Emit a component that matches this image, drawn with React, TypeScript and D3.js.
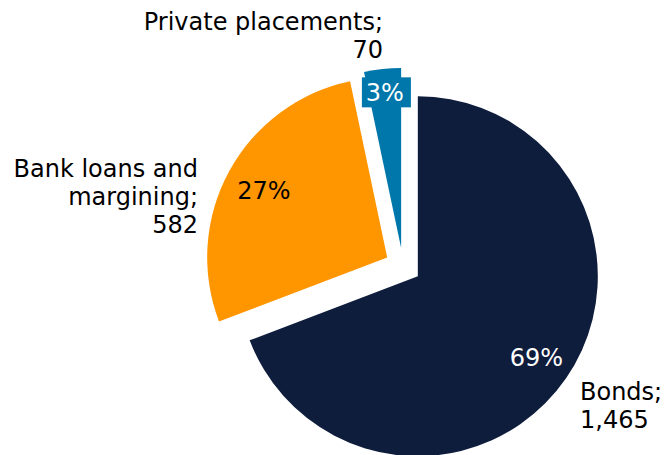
import React from "react";
import * as d3 from "d3";

const categories = ["Bonds", "Bank loans and margining", "Private placements"];
const values = [1465, 582, 70];
const outerLabelLines = [["Bonds;", "1,465"], ["Bank loans and", "margining;", "582"], ["Private placements;", "70"]];
const colors = ["#0F1D3D", "#FF9600", "#0077AA"];
const pctColors = ["#FFFFFF", "#000000", "#FFFFFF"];

const W = 665, H = 455;
const cx = 403, cy = 266, R = 180, EXPLODE = 18;
const FONT = "'DejaVu Sans', Verdana, sans-serif";
const FS = 24;

export default function App() {
  const pie = d3.pie<number>().sort(null).startAngle(0).endAngle(2 * Math.PI);
  const arcs = pie(values);
  const arc = d3.arc<d3.PieArcDatum<number>>().innerRadius(0).outerRadius(R);
  const total = d3.sum(values);
  const pctFrac = [0.8, 0.78, 0.87];
  const outerPos: [number, number, string][] = [
    [580, 400, "start"],
    [198, 177, "end"],
    [383, 30, "end"],
  ];
  return (
    <svg width={W} height={H} style={{ position: "absolute", left: 0, top: 0 }}>
      <rect width={W} height={H} fill="#fff" />
      {arcs.map((a, i) => {
        const mid = (a.startAngle + a.endAngle) / 2;
        const ox = cx + EXPLODE * Math.sin(mid);
        const oy = cy - EXPLODE * Math.cos(mid);
        const lr = R * pctFrac[i];
        const lx = ox + lr * Math.sin(mid);
        const ly = oy - lr * Math.cos(mid);
        const pct = Math.round((values[i] / total) * 100) + "%";
        return (
          <g key={categories[i]}>
            <path d={arc(a) || ""} transform={`translate(${ox},${oy})`} fill={colors[i]} />
            {i === 2 && (
              <rect x={lx - 23} y={ly - 15} width={49} height={30} fill={colors[i]} />
            )}
            <text x={lx} y={ly} dy="0.35em" textAnchor="middle" fontFamily={FONT} fontSize={FS} fill={pctColors[i]}>
              {pct}
            </text>
          </g>
        );
      })}
      {outerLabelLines.map((lines, i) => (
        <text key={i} fontFamily={FONT} fontSize={FS} fill="#000" textAnchor={outerPos[i][2] as any}>
          {lines.map((l, j) => (
            <tspan key={j} x={outerPos[i][0]} y={outerPos[i][1] + j * 28}>{l}</tspan>
          ))}
        </text>
      ))}
    </svg>
  );
}
